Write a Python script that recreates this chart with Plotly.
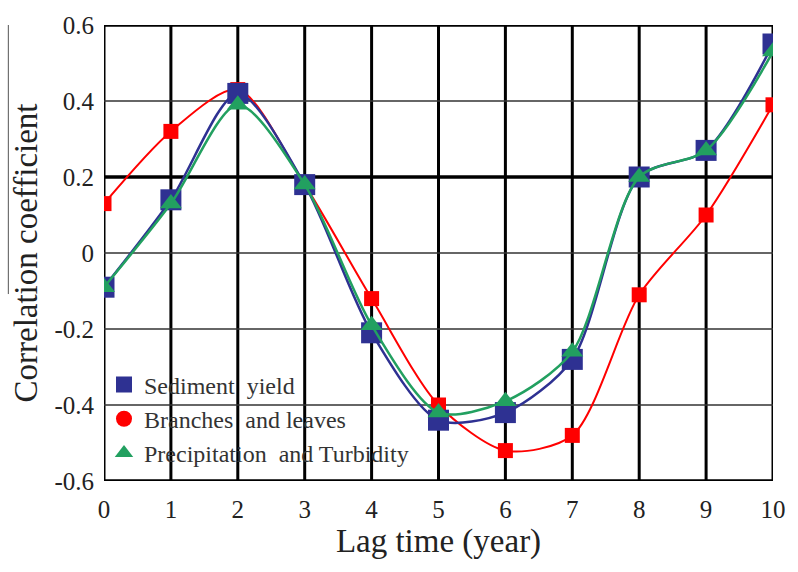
import plotly.graph_objects as go

lag = [0, 1, 2, 3, 4, 5, 6, 7, 8, 9, 10]
sediment = [-0.09, 0.14, 0.42, 0.18, -0.21, -0.44, -0.42, -0.28, 0.20, 0.27, 0.55]
branches = [0.13, 0.32, 0.43, 0.18, -0.12, -0.40, -0.52, -0.48, -0.11, 0.10, 0.39]
precip = [-0.09, 0.13, 0.39, 0.18, -0.19, -0.42, -0.39, -0.26, 0.20, 0.27, 0.53]
names = ["Sediment  yield", "Branches  and leaves", "Precipitation  and Turbidity"]
xticks = [0, 1, 2, 3, 4, 5, 6, 7, 8, 9, 10]
yticks = [-0.6, -0.4, -0.2, 0, 0.2, 0.4, 0.6]
ytext = ["-0.6", "-0.4", "-0.2", "0", "0.2", "0.4", "0.6"]

blue = "#2e3192"
red = "#ff0000"
green = "#22a060"
FAM = "Liberation Serif"

fig = go.Figure()
fig.add_trace(go.Scatter(x=lag, y=branches, mode="lines+markers", line=dict(color=red, width=2, shape="spline", smoothing=0.8),
                         marker=dict(symbol="square", size=15, color=red), showlegend=False))
fig.add_trace(go.Scatter(x=lag, y=sediment, mode="lines+markers", line=dict(color=blue, width=2.5, shape="spline", smoothing=0.8),
                         marker=dict(symbol="square", size=21, color=blue), showlegend=False))
fig.add_trace(go.Scatter(x=lag, y=precip, mode="lines+markers", line=dict(color=green, width=2.5, shape="spline", smoothing=0.8),
                         marker=dict(symbol="triangle-up", size=19, color=green), showlegend=False))
# legend-only entries
for nm, col, sym in zip(names, [blue, red, green], ["square", "circle", "triangle-up"]):
    fig.add_trace(go.Scatter(x=[None], y=[None], mode="markers", name=nm,
                             marker=dict(symbol=sym, size=16, color=col)))

grid_x = [dict(type="line", xref="x", yref="paper", x0=v, x1=v, y0=0, y1=1,
               line=dict(color="black", width=3), layer="below") for v in xticks]
grid_y = []
for v in yticks:
    w = 3.5 if v in (0.2, 0.6, -0.6) else 1.5
    c = "black" if w > 2 else "#333333"
    grid_y.append(dict(type="line", xref="paper", yref="y", x0=0, x1=1, y0=v, y1=v,
                       line=dict(color=c, width=w), layer="below"))

fig.update_layout(
    width=798, height=572,
    margin=dict(l=104, r=20, t=16, b=91),
    paper_bgcolor="white", plot_bgcolor="white",
    font=dict(family=FAM, color="#222222"),
    xaxis=dict(range=[0, 10], tickvals=xticks, showgrid=False, zeroline=False,
               showline=False, ticks="outside", ticklen=6, tickcolor="rgba(0,0,0,0)",
               tickfont=dict(family=FAM, size=25, color="#222"),
               title=dict(text="Lag time (year)", font=dict(family=FAM, size=33, color="#222"), standoff=6)),
    yaxis=dict(range=[-0.6, 0.6], tickvals=yticks, ticktext=ytext, showgrid=False, zeroline=False,
               showline=False, ticks="outside", ticklen=4, tickcolor="rgba(0,0,0,0)",
               tickfont=dict(family=FAM, size=25, color="#222"),
               title=dict(text="Correlation coefficient", font=dict(family=FAM, size=33, color="#222"), standoff=6)),
    shapes=grid_x + grid_y + [
        dict(type="line", xref="paper", yref="paper", x0=-0.143, x1=-0.143, y0=0.41, y1=1.0,
             line=dict(color="#555", width=1)),
    ],
    legend=dict(x=0.0, y=0.26, xanchor="left", yanchor="top", bgcolor="rgba(0,0,0,0)",
                font=dict(family=FAM, size=24, color="#333"), tracegroupgap=0, itemwidth=30),
)

fig.write_html("out.html")
